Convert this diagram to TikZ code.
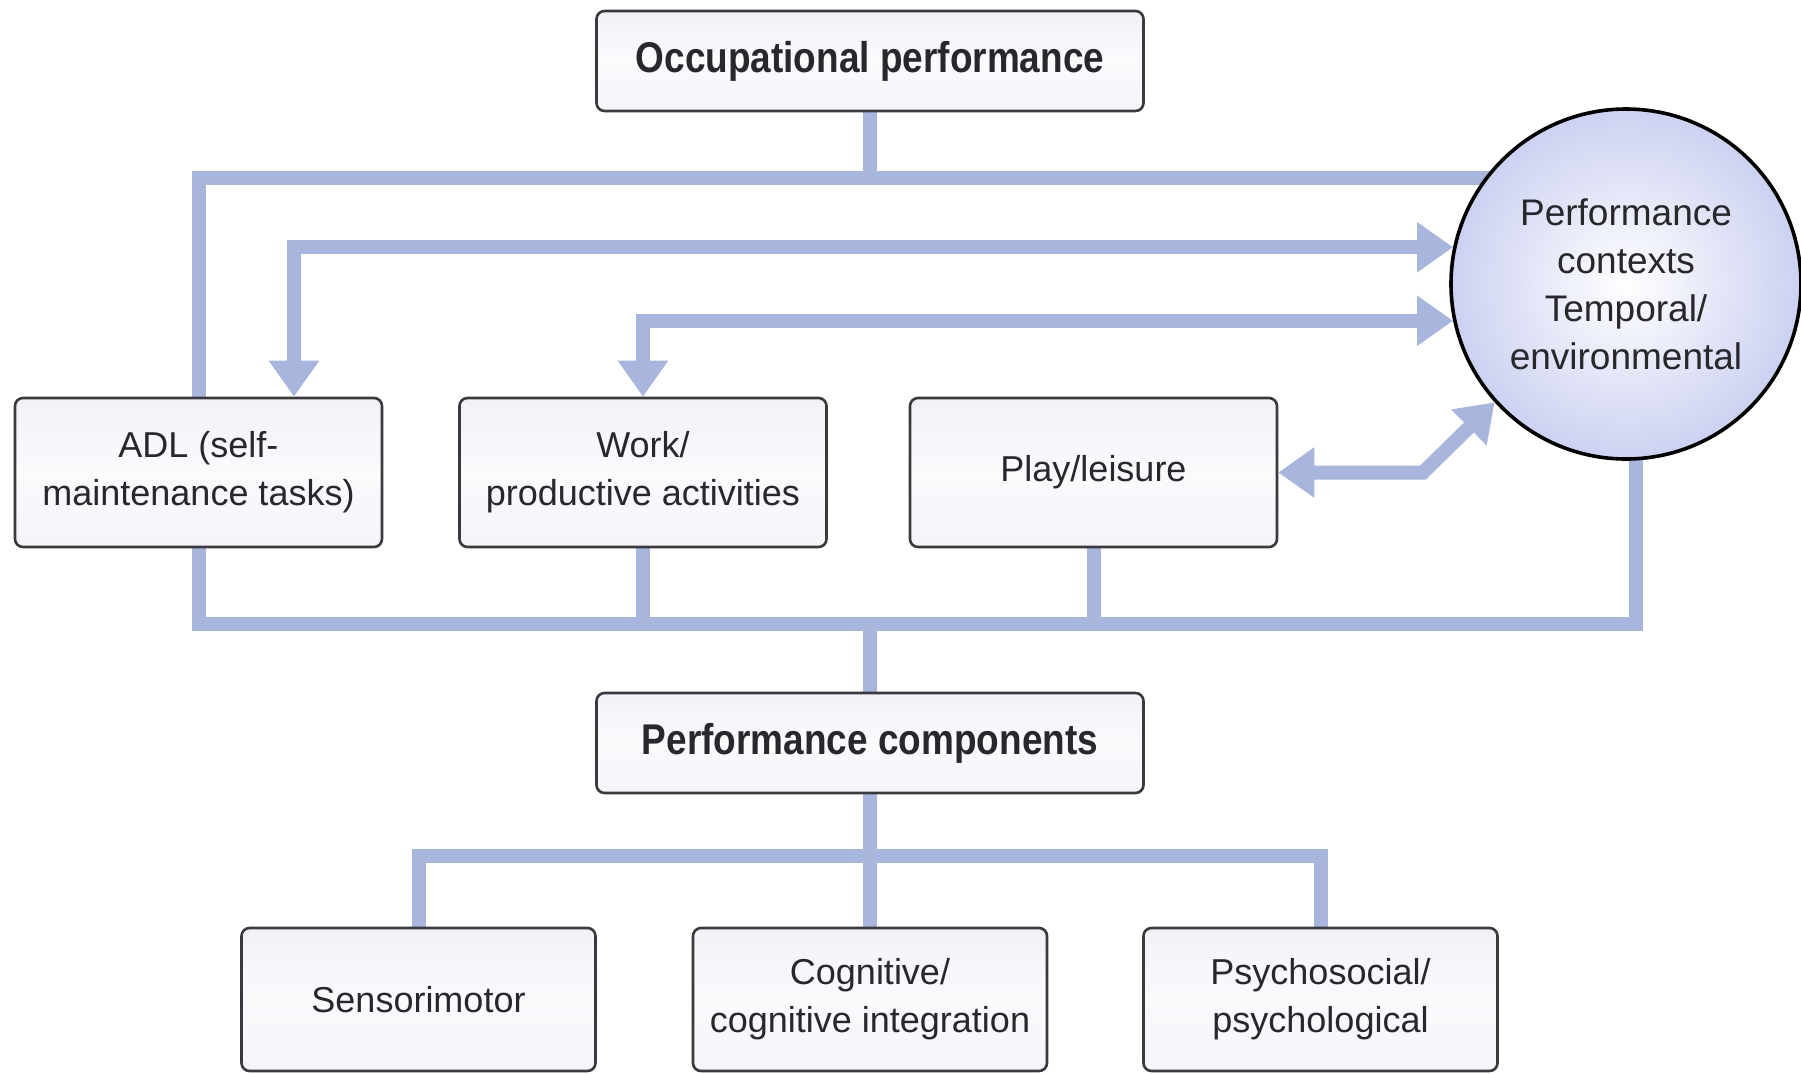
\documentclass[tikz,border=0pt]{standalone}
\usepackage{fontspec}
\setmainfont{Liberation Sans}
\newfontfamily\headfont[FakeStretch=0.86]{Liberation Sans}
\usetikzlibrary{arrows.meta,backgrounds,shapes.geometric}
\definecolor{barc}{RGB}{168,181,221}
\definecolor{boxfill}{RGB}{241,241,249}
\definecolor{boxline}{RGB}{58,58,62}
\definecolor{txt}{RGB}{40,40,44}
\definecolor{circout}{RGB}{204,209,241}
\tikzset{
  box/.style={draw=boxline, line width=1.3pt, rounded corners=4pt,
    top color=boxfill, bottom color=boxfill!80!white, middle color=white!70!boxfill,
    align=center, text=txt, inner sep=0pt,
    font=\fontsize{18}{24}\selectfont},
  midbox/.style={box, minimum width=183.5pt, minimum height=74.5pt},
  lowbox/.style={box, minimum width=177pt, minimum height=71.5pt},
  headbox/.style={box, minimum width=273.5pt, minimum height=50pt,
    font=\headfont\bfseries\fontsize{21.5}{24}\selectfont},
  ctx/.style={circle, draw=black, line width=1.8pt, minimum size=175pt, inner sep=0pt,
    inner color=white, outer color=circout, align=center, text=txt,
    font=\fontsize{18.5}{24}\selectfont},
  bar/.style={draw=barc, line width=7pt, line join=miter},
  biarrow/.style={bar, {Triangle[width=24pt,length=18pt]}-{Triangle[width=24pt,length=18pt]}},
}
\begin{document}
\begin{tikzpicture}[x=0.5pt,y=-0.5pt]
\useasboundingbox (0,0) rectangle (1801,1073);
\clip (0,0) rectangle (1801,1073);
% nodes
\node[headbox] (OP) at (870,61) {Occupational performance};
\node[ctx] (circ) at (1626,284) {Performance\\contexts\\Temporal/\\environmental};
\node[midbox] (ADL) at (198.5,472.5) {ADL (self-\\maintenance tasks)};
\node[midbox] (Work) at (643,472.5) {Work/\\productive activities};
\node[midbox] (Play) at (1093.5,472.5) {Play/leisure};
\node[headbox] (PC) at (870,743) {Performance components};
\node[lowbox] (Sens) at (418.5,999.5) {Sensorimotor};
\node[lowbox] (Cog) at (870,999.5) {Cognitive/\\cognitive integration};
\node[lowbox] (Psy) at (1320.5,999.5) {Psychosocial/\\psychological};
% coordinates
\coordinate (tb) at (870,178);
\coordinate (bb) at (870,624);
\coordinate (lb) at (870,856);
\coordinate (rv) at (1636,300);
\coordinate (a1) at (294,0);
\coordinate (pbend) at (1423,472.5);
\begin{pgfonlayer}{background}
  \fill[white] (0,0) rectangle (1801,1073);
  % top tree
  \draw[bar] (OP.center) -- (tb);
  \draw[bar] (ADL.center) |- (circ.center |- tb);
  % bottom tree
  \draw[bar] (ADL.center) |- (rv |- bb) -- (rv);
  \draw[bar] (Work.center) -- (Work.center |- bb);
  \draw[bar] (Play.center) -- (Play.center |- bb);
  \draw[bar] (bb) -- (PC.center);
  % components tree
  \draw[bar] (PC.center) -- (Cog.center);
  \draw[bar] (Sens.center) |- (Psy.center |- lb) -- (Psy.center);
\end{pgfonlayer}
% double arrows
\draw[biarrow] (circ.168) -| (a1 |- ADL.north);
\draw[biarrow] (circ.192) -| (Work.north);
\draw[biarrow] (Play.east) -- (pbend) -- (circ.222);
\end{tikzpicture}
\end{document}
